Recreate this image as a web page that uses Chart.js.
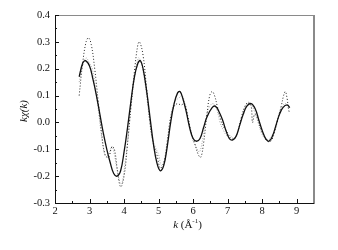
<!DOCTYPE html>
<html>
<head>
<meta charset="utf-8">
<script src="https://cdn.jsdelivr.net/npm/chart.js@4.4.1/dist/chart.umd.min.js"></script>
<style>
    html, body { margin: 0; padding: 0; background: #fff; }
</style>
</head>
<body>
<canvas id="kchiChart" width="338" height="250"></canvas>
<script>
// data
const kFit = [2.70, 2.80, 2.88, 3.00, 3.10, 3.20, 3.30, 3.40, 3.50, 3.60, 3.70, 3.80, 3.90, 4.00, 4.10, 4.20, 4.30, 4.40, 4.47, 4.55,
              4.65, 4.75, 4.85, 4.95, 5.05, 5.15, 5.25, 5.35, 5.45, 5.55, 5.62, 5.70, 5.80, 5.90, 6.00, 6.10, 6.20, 6.30, 6.40, 6.55,
              6.65, 6.75, 6.85, 6.95, 7.05, 7.15, 7.25, 7.35, 7.45, 7.55, 7.68, 7.80, 7.90, 8.00, 8.10, 8.20, 8.30, 8.40, 8.50, 8.60,
              8.72, 8.80];
const chiFit = [0.17, 0.22, 0.23, 0.21, 0.16, 0.10, 0.03, -0.04, -0.10, -0.15, -0.19, -0.20, -0.18, -0.11, -0.02, 0.08, 0.17, 0.22, 0.23, 0.20,
                0.12, 0.02, -0.08, -0.15, -0.18, -0.16, -0.09, 0.00, 0.07, 0.11, 0.115, 0.09, 0.04, -0.02, -0.06, -0.07, -0.06, -0.02, 0.02, 0.055,
                0.06, 0.04, 0.01, -0.03, -0.06, -0.065, -0.05, -0.01, 0.03, 0.06, 0.07, 0.05, 0.01, -0.03, -0.06, -0.07, -0.05, -0.01, 0.03, 0.055,
                0.065, 0.055];

const kExpA = [2.70, 2.80, 2.90, 2.97, 3.05, 3.15, 3.25, 3.35, 3.45, 3.55, 3.65, 3.72, 3.80, 3.90, 4.00, 4.10, 4.20, 4.30, 4.40, 4.45,
               4.55, 4.65, 4.75, 4.85, 4.95, 5.05, 5.15, 5.25, 5.35, 5.45, 5.55, 5.65, 5.75, 5.85, 5.95, 6.05, 6.15, 6.22, 6.30, 6.40,
               6.48, 6.55, 6.62, 6.70, 6.80, 6.90, 7.00, 7.10, 7.20, 7.30, 7.40, 7.50, 7.60, 7.68, 7.72, 7.78, 7.85, 7.95, 8.05, 8.15,
               8.25, 8.35, 8.45, 8.55, 8.62, 8.67, 8.72, 8.78, 8.83];
const chiExpA = [0.10, 0.22, 0.30, 0.315, 0.29, 0.20, 0.08, -0.04, -0.12, -0.13, -0.09, -0.10, -0.17, -0.24, -0.20, -0.08, 0.06, 0.19, 0.29, 0.30,
                 0.25, 0.13, 0.00, -0.08, -0.12, -0.17, -0.15, -0.07, 0.02, 0.06, 0.07, 0.065, 0.07, 0.02, -0.04, -0.08, -0.12, -0.13, -0.08, 0.03,
                 0.10, 0.115, 0.10, 0.06, 0.01, -0.02, -0.04, -0.06, -0.06, -0.03, 0.02, 0.06, 0.075, 0.06, 0.00, 0.03, 0.02, -0.02, -0.05, -0.07,
                 -0.07, -0.04, 0.01, 0.06, 0.10, 0.115, 0.09, 0.04, 0.04];

const kExpB = [2.70, 2.80, 2.90, 3.00, 3.08, 3.18, 3.28, 3.38, 3.48, 3.58, 3.65, 3.72, 3.82, 3.92, 4.02, 4.12, 4.22, 4.32, 4.42, 4.50,
               4.60, 4.70, 4.80, 4.90, 5.00, 5.08, 5.18, 5.28, 5.38, 5.48, 5.58, 5.68, 5.78, 5.88, 5.98, 6.08, 6.18, 6.28, 6.38, 6.48,
               6.58, 6.68, 6.78, 6.88, 6.98, 7.08, 7.18, 7.28, 7.38, 7.48, 7.58, 7.68, 7.78, 7.88, 7.98, 8.08, 8.18, 8.28, 8.38, 8.48,
               8.58, 8.68, 8.78];
const chiExpB = [0.15, 0.21, 0.24, 0.22, 0.20, 0.12, 0.02, -0.08, -0.13, -0.11, -0.09, -0.12, -0.19, -0.23, -0.16, -0.05, 0.08, 0.18, 0.24, 0.22,
                 0.15, 0.05, -0.05, -0.09, -0.12, -0.16, -0.14, -0.05, 0.04, 0.08, 0.09, 0.10, 0.06, 0.00, -0.06, -0.09, -0.11, -0.06, 0.02, 0.06,
                 0.07, 0.05, 0.00, -0.03, -0.05, -0.05, -0.06, -0.04, 0.01, 0.05, 0.07, 0.065, 0.04, 0.00, -0.04, -0.06, -0.065, -0.05, -0.02, 0.03,
                 0.06, 0.07, 0.05];

const xTicks = [2, 3, 4, 5, 6, 7, 8, 9];
const yTicks = [-0.3, -0.2, -0.1, 0.0, 0.1, 0.2, 0.3, 0.4];

function toPoints(xs, ys) {
    return xs.map((x, i) => ({ x: x, y: ys[i] }));
}

const serif = '"Liberation Serif", "DejaVu Serif", serif';

// frame, inward ticks and axis titles
const framePlugin = {
    id: 'frame',
    afterDraw(chart) {
        const ctx = chart.ctx;
        const a = chart.chartArea;
        const xs = chart.scales.x;
        const ys = chart.scales.y;
        ctx.save();

        // top and right in grey
        ctx.strokeStyle = '#8a8a8a';
        ctx.lineWidth = 1;
        ctx.beginPath();
        ctx.moveTo(a.left, a.top + 0.5);
        ctx.lineTo(a.right, a.top + 0.5);
        ctx.stroke();
        ctx.lineWidth = 2;
        ctx.beginPath();
        ctx.moveTo(a.right, a.top);
        ctx.lineTo(a.right, a.bottom + 1);
        ctx.stroke();

        // left and bottom in black
        ctx.strokeStyle = '#111';
        ctx.lineWidth = 1;
        ctx.beginPath();
        ctx.moveTo(a.left + 0.5, a.top);
        ctx.lineTo(a.left + 0.5, a.bottom + 0.5);
        ctx.lineTo(a.right, a.bottom + 0.5);
        ctx.stroke();

        // ticks pointing in
        ctx.beginPath();
        for (let v = 2; v <= 9.01; v += 0.5) {
            const px = Math.round(xs.getPixelForValue(v)) + 0.5;
            const len = Math.abs(v - Math.round(v)) < 0.01 ? 4 : 2;
            ctx.moveTo(px, a.bottom);
            ctx.lineTo(px, a.bottom - len);
        }
        for (let v = -0.3; v <= 0.401; v += 0.05) {
            const py = Math.round(ys.getPixelForValue(v)) + 0.5;
            const major = Math.abs(v * 10 - Math.round(v * 10)) < 0.01;
            ctx.moveTo(a.left, py);
            ctx.lineTo(a.left + (major ? 4 : 2), py);
        }
        ctx.stroke();

        // x title: k (Å⁻¹)
        ctx.fillStyle = '#111';
        ctx.textBaseline = 'middle';
        const cx = (a.left + a.right) / 2 + 3;
        const ty = 225;
        ctx.font = 'italic 11px ' + serif;
        const wK = ctx.measureText('k').width;
        ctx.font = '11px ' + serif;
        const rest = ' (Å';
        const wRest = ctx.measureText(rest).width;
        ctx.font = '7px ' + serif;
        const wSup = ctx.measureText('-1').width;
        ctx.font = '11px ' + serif;
        let x0 = cx - (wK + wRest + wSup + ctx.measureText(')').width) / 2;
        ctx.textAlign = 'left';
        ctx.font = 'italic 11px ' + serif;
        ctx.fillText('k', x0, ty);
        x0 += wK;
        ctx.font = '11px ' + serif;
        ctx.fillText(rest, x0, ty);
        x0 += wRest;
        ctx.font = '7px ' + serif;
        ctx.fillText('-1', x0, ty - 4);
        x0 += wSup;
        ctx.font = '11px ' + serif;
        ctx.fillText(')', x0, ty);

        // y title: kχ(k)
        ctx.translate(24, (a.top + a.bottom) / 2 + 2);
        ctx.rotate(-Math.PI / 2);
        ctx.font = 'italic 11px ' + serif;
        ctx.textAlign = 'center';
        ctx.fillText('kχ(k)', 0, 0);

        ctx.restore();
    }
};

new Chart(document.getElementById('kchiChart'), {
    type: 'line',
    data: {
        datasets: [
            {
                label: 'fit',
                data: toPoints(kFit, chiFit),
                borderColor: '#111',
                borderWidth: 1.3,
                pointRadius: 0,
                tension: 0.4,
                fill: false
            },
            {
                label: 'exp A',
                data: toPoints(kExpA, chiExpA),
                borderColor: '#222',
                borderWidth: 1,
                borderDash: [1, 2],
                pointRadius: 0,
                tension: 0.4,
                fill: false
            },
            {
                label: 'exp B',
                data: toPoints(kExpB, chiExpB),
                borderColor: '#a8a8a8',
                borderWidth: 1,
                borderDash: [1, 1.5],
                pointRadius: 0,
                tension: 0.4,
                fill: false
            }
        ]
    },
    options: {
        responsive: false,
        animation: false,
        layout: { padding: { left: 0, right: 24, top: 15, bottom: 0 } },
        plugins: {
            legend: { display: false },
            tooltip: { enabled: false }
        },
        scales: {
            x: {
                type: 'linear',
                min: 2,
                max: 9.5,
                afterBuildTicks: function(axis) {
                    axis.ticks = xTicks.map(v => ({ value: v }));
                },
                afterFit: function(axis) { axis.height = 47; },
                grid: { display: false, drawTicks: false },
                border: { display: false },
                ticks: {
                    padding: 2,
                    color: '#111',
                    font: { family: serif, size: 10.5 },
                    maxRotation: 0,
                    callback: v => String(v)
                }
            },
            y: {
                min: -0.3,
                max: 0.4,
                afterBuildTicks: function(axis) {
                    axis.ticks = yTicks.map(v => ({ value: v }));
                },
                afterFit: function(axis) { axis.width = 55; },
                grid: { display: false, drawTicks: false },
                border: { display: false },
                ticks: {
                    padding: 5,
                    color: '#111',
                    font: { family: serif, size: 10.5 },
                    callback: v => Number(v).toFixed(1)
                }
            }
        }
    },
    plugins: [framePlugin]
});
</script>
</body>
</html>
